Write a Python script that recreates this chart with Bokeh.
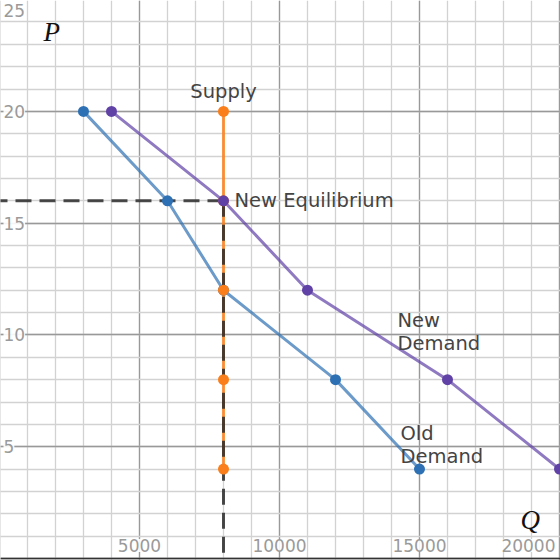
from bokeh.plotting import figure
from bokeh.models import Range1d, Grid, SingleIntervalTicker, Span
from bokeh.core.properties import value
from bokeh.embed import file_html
from bokeh.resources import INLINE

# Data
old_q = [3000, 6000, 8000, 12000, 15000]
old_p = [20, 16, 12, 8, 4]
new_q = [4000, 8000, 11000, 16000, 20000]
new_p = [20, 16, 12, 8, 4]
sup_q = [8000, 8000, 8000, 8000, 8000]
sup_p = [20, 16, 12, 8, 4]
eq_q = 8000
eq_p = 16
xticks = [5000, 10000, 15000, 20000]
xtick_labels = ["5000", "10000", "15000", "20000"]
yticks = [5, 10, 15, 20, 25]
ytick_labels = ["5", "10", "15", "20", "25"]

BLUE = "#2d70b3"
PURPLE = "#6042a6"
ORANGE = "#fa7e19"
FONT = value("DejaVu Sans")

p = figure(width=560, height=560, output_backend="svg", toolbar_location=None,
           x_range=Range1d(36, 20036), y_range=Range1d(-0.09, 24.96),
           x_axis_location=None, y_axis_location=None, min_border=0)
p.outline_line_color = None
p.xgrid.visible = False
p.ygrid.visible = False

gx = Grid(dimension=0, ticker=SingleIntervalTicker(interval=5000, num_minor_ticks=5),
          grid_line_color="#999999", grid_line_width=1.3,
          minor_grid_line_color="#d2d2d2", minor_grid_line_width=1.3)
gy = Grid(dimension=1, ticker=SingleIntervalTicker(interval=5, num_minor_ticks=5),
          grid_line_color="#999999", grid_line_width=1.3,
          minor_grid_line_color="#d2d2d2", minor_grid_line_width=1.3)
p.add_layout(gx)
p.add_layout(gy)
p.add_layout(Span(location=0, dimension="height", line_color="#333333", line_width=1.5))
p.add_layout(Span(location=0, dimension="width", line_color="#333333", line_width=1.5))

# tick labels
p.text(x=[0] * 4, y=yticks[:-1], text=ytick_labels[:-1], x_offset=4,
       text_align="left", text_baseline="middle", text_font=FONT, text_font_size="17px",
       text_color="#9a9a9a", background_fill_color="white", background_fill_alpha=0.9)
p.text(x=[0], y=yticks[-1:], text=ytick_labels[-1:], x_offset=4, y_offset=4,
       text_align="left", text_baseline="top", text_font=FONT, text_font_size="17px",
       text_color="#9a9a9a", background_fill_color="white", background_fill_alpha=0.9)
p.text(x=xticks[:-1], y=[0] * 3, text=xtick_labels[:-1], y_offset=-13,
       text_align="center", text_baseline="middle", text_font=FONT, text_font_size="17px",
       text_color="#9a9a9a", background_fill_color="white", background_fill_alpha=0.9)
p.text(x=xticks[-1:], y=[0], text=xtick_labels[-1:], y_offset=-13, x_offset=-4,
       text_align="right", text_baseline="middle", text_font=FONT, text_font_size="17px",
       text_color="#9a9a9a", background_fill_color="white", background_fill_alpha=0.9)

# lines
p.line(old_q, old_p, line_color=BLUE, line_alpha=0.7, line_width=3)
p.line(new_q, new_p, line_color=PURPLE, line_alpha=0.7, line_width=3)
p.line(sup_q, sup_p, line_color=ORANGE, line_alpha=0.8, line_width=3)

# equilibrium dashes
p.line([-2000, eq_q], [eq_p, eq_p], line_color="#2a2a2a", line_alpha=0.85,
       line_width=3, line_dash="16 8")
p.line([eq_q, eq_q], [eq_p, -2], line_color="#2a2a2a", line_alpha=0.85,
       line_width=3, line_dash="16 8")

# points
p.scatter(old_q, old_p, size=11, fill_color=BLUE, line_color=None)
p.scatter(sup_q, sup_p, size=11, fill_color=ORANGE, line_color=None)
p.scatter(new_q, new_p, size=11, fill_color=PURPLE, line_color=None)

# labels
LBL = dict(text_font=FONT, text_font_size="19.5px", text_color="#444444",
           text_baseline="middle", text_line_height=1.0)
p.text(x=[8000], y=[20], text=["Supply"], y_offset=-20, text_align="center", **LBL)
p.text(x=[eq_q], y=[eq_p], text=["New Equilibrium"], x_offset=11, text_align="left", **LBL)
p.text(x=[14214], y=[10.13], text=["New\nDemand"], text_align="left", **LBL)
p.text(x=[14321], y=[5.09], text=["Old\nDemand"], text_align="left", **LBL)

# axis titles
p.text(x=[1571], y=[23.53], text=["P"], text_align="left", text_baseline="middle",
       text_font=value("Liberation Serif"), text_font_style="italic",
       text_font_size="27px", text_color="#111111")
p.text(x=[18607], y=[1.74], text=["Q"], text_align="left", text_baseline="middle",
       text_font=value("Liberation Serif"), text_font_style="italic",
       text_font_size="27px", text_color="#111111")

open("out.html", "w").write(file_html(p, INLINE))
